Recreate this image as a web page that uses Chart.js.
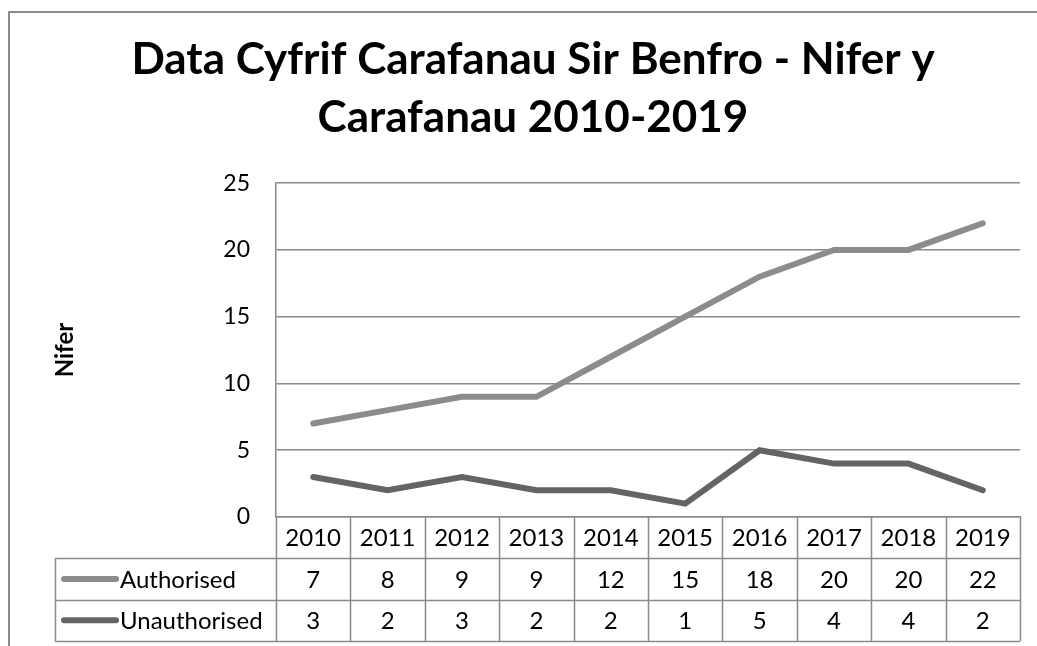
<!DOCTYPE html>
<html>
<head>
<meta charset="utf-8">
<script src="https://cdn.jsdelivr.net/npm/chart.js@4.4.0/dist/chart.umd.min.js"></script>
<style>
  html, body { margin: 0; padding: 0; background: #fff; }
  #wrap { width: 1037px; height: 646px; }
</style>
</head>
<body>
<div id="wrap"><canvas id="myChart" width="1037" height="646"></canvas></div>
<script>
const years = ['2010', '2011', '2012', '2013', '2014', '2015', '2016', '2017', '2018', '2019'];
const authorised = [7, 8, 9, 9, 12, 15, 18, 20, 20, 22];
const unauthorised = [3, 2, 3, 2, 2, 1, 5, 4, 4, 2];
const seriesNames = ['Authorised', 'Unauthorised'];
const yTicks = [0, 5, 10, 15, 20, 25];

const gridColor = '#8a8a8a';
const lineColors = ['#8c8c8c', '#646464'];
const fontName = 'Lato, "Liberation Sans", sans-serif';

// outer frame of the chart + y axis title
const framePlugin = {
    id: 'frame',
    beforeDraw(chart) {
        const ctx = chart.ctx;
        ctx.save();
        ctx.fillStyle = '#fff';
        ctx.fillRect(0, 0, chart.width, chart.height);
        ctx.strokeStyle = gridColor;
        ctx.lineWidth = 2;
        ctx.strokeRect(9, 12, 1200, 1000);
        ctx.restore();
    },
    afterDraw(chart) {
        const ctx = chart.ctx;
        const area = chart.chartArea;
        ctx.save();
        ctx.translate(65, (area.top + area.bottom) / 2);
        ctx.rotate(-Math.PI / 2);
        ctx.font = 'bold 24px ' + fontName;
        ctx.fillStyle = '#000';
        ctx.textAlign = 'center';
        ctx.textBaseline = 'middle';
        ctx.fillText('Nifer', 0, 0);
        ctx.restore();
    }
};

// data table under the x axis
const tablePlugin = {
    id: 'dataTable',
    afterDraw(chart) {
        const ctx = chart.ctx;
        const x = chart.scales.x;
        const n = years.length;
        const w = (x.right - x.left) / n;
        const top = chart.chartArea.bottom;
        const rowH = 41.3;
        const legendLeft = 55;
        ctx.save();
        ctx.strokeStyle = gridColor;
        ctx.lineWidth = 1.5;
        ctx.font = '24px ' + fontName;
        ctx.fillStyle = '#000';
        ctx.textAlign = 'center';
        ctx.textBaseline = 'middle';

        // horizontal lines
        ctx.beginPath();
        for (let k = 1; k <= 3; k++) {
            const py = Math.round(top + k * rowH) + 0.5;
            ctx.moveTo(legendLeft, py);
            ctx.lineTo(x.right, py);
        }
        // vertical lines
        for (let i = 0; i <= n; i++) {
            const px = Math.round(x.left + i * w) + 0.5;
            ctx.moveTo(px, top);
            ctx.lineTo(px, top + 3 * rowH);
        }
        ctx.moveTo(legendLeft + 0.5, top + rowH);
        ctx.lineTo(legendLeft + 0.5, top + 3 * rowH);
        ctx.stroke();

        // header and values
        const rows = [authorised, unauthorised];
        for (let i = 0; i < n; i++) {
            const cx = x.getPixelForValue(i);
            ctx.fillText(years[i], cx, top + rowH / 2 + 1);
            rows.forEach((r, j) => {
                ctx.fillText(String(r[i]), cx, top + rowH * (j + 1.5) + 1);
            });
        }

        // legend keys
        ctx.textAlign = 'left';
        seriesNames.forEach((name, j) => {
            const cy = top + rowH * (j + 1.5);
            ctx.strokeStyle = lineColors[j];
            ctx.lineWidth = 6;
            ctx.lineCap = 'round';
            ctx.beginPath();
            ctx.moveTo(64, cy);
            ctx.lineTo(116, cy);
            ctx.stroke();
            ctx.fillText(name, 120, cy + 1);
        });
        ctx.restore();
    }
};

const ctx = document.getElementById('myChart').getContext('2d');
const myChart = new Chart(ctx, {
    type: 'line',
    data: {
        labels: years,
        datasets: [{
            label: seriesNames[0],
            data: authorised,
            borderColor: lineColors[0],
            borderWidth: 6,
            borderCapStyle: 'round',
            pointRadius: 0,
            tension: 0
        }, {
            label: seriesNames[1],
            data: unauthorised,
            borderColor: lineColors[1],
            borderWidth: 6,
            borderCapStyle: 'round',
            pointRadius: 0,
            tension: 0
        }]
    },
    options: {
        responsive: false,
        animation: false,
        layout: { padding: { left: 46, right: 17, top: 0, bottom: 0 } },
        plugins: {
            legend: { display: false },
            tooltip: { enabled: false },
            title: {
                display: true,
                text: ['Data Cyfrif Carafanau Sir Benfro - Nifer y', 'Carafanau 2010-2019'],
                color: '#000',
                font: { family: fontName, size: 44, weight: 'bold', lineHeight: 1.32 },
                padding: { top: 31, bottom: 36 }
            }
        },
        scales: {
            x: {
                offset: true,
                grid: { display: false },
                border: { display: true, color: gridColor, width: 1.5 },
                ticks: { display: false },
                afterFit(scale) { scale.height = 646 - 517; }
            },
            y: {
                min: 0,
                max: 25,
                afterBuildTicks(scale) { scale.ticks = yTicks.map(v => ({ value: v })); },
                grid: { color: gridColor, lineWidth: 1.5, drawTicks: false },
                border: { display: true, color: gridColor, width: 1.5 },
                ticks: { color: '#000', padding: 26, font: { family: fontName, size: 23 } },
                afterFit(scale) { scale.width = 276 - 46; }
            }
        }
    },
    plugins: [framePlugin, tablePlugin]
});
</script>
</body>
</html>
